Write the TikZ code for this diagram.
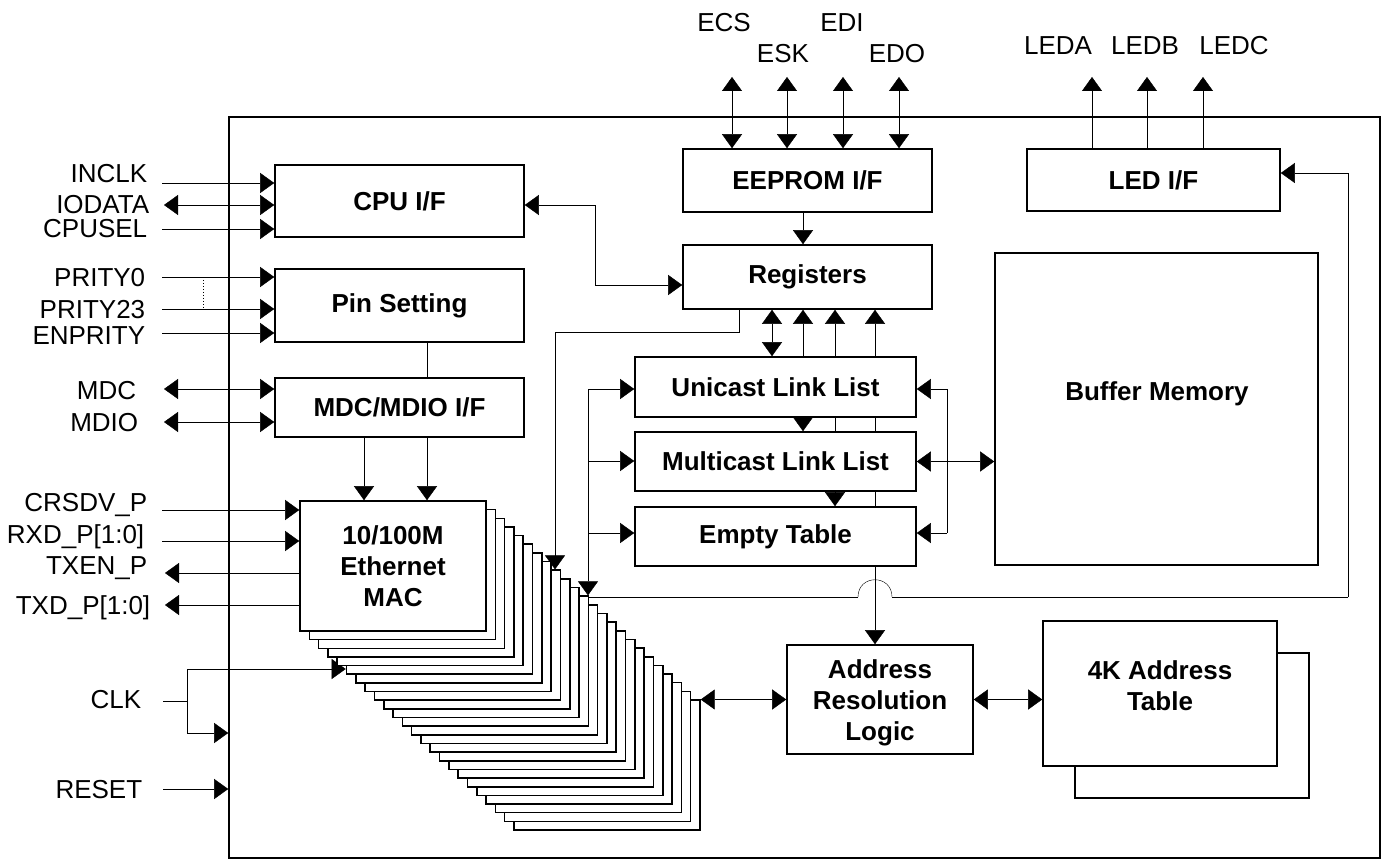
\documentclass[tikz,border=0pt]{standalone}
\usepackage{fontspec}
\setmainfont{Liberation Sans}
\usetikzlibrary{arrows.meta,calc}
\pgfdeclarelayer{bg}
\pgfsetlayers{bg,main}
\begin{document}
\begin{tikzpicture}[x=1pt,y=-1pt,line width=1.6pt,
  box/.style={draw,fill=white,line width=1.6pt,inner sep=0pt,font=\fontsize{26}{31}\selectfont\bfseries,align=center},
  btxt/.style={inner sep=0pt,font=\fontsize{26}{31}\selectfont\bfseries,align=center},
  lab/.style={inner sep=0pt,font=\fontsize{26}{31}\selectfont},
  sarr/.style={-{Triangle[length=14pt,width=20pt]}},
  darr/.style={{Triangle[length=14pt,width=20pt]}-{Triangle[length=14pt,width=20pt]}}]
\useasboundingbox (0,0) rectangle (1385,861);

% chip outline
\node[draw,line width=1.6pt,inner sep=0pt,minimum width=1151pt,minimum height=741pt] (chip) at (804.5,487.5) {};

% blocks
\node[box,minimum width=249pt,minimum height=72pt] (cpu) at (399.5,201) {CPU I/F};
\node[box,minimum width=249pt,minimum height=73pt] (pin) at (399.5,305.5) {Pin Setting};
\node[box,minimum width=249pt,minimum height=59pt] (mdc) at (399.5,407.5) {MDC/MDIO I/F};
\node[box,minimum width=249pt,minimum height=63pt] (eeprom) at (807.5,180.5) {EEPROM I/F};
\node[box,minimum width=249pt,minimum height=64pt] (reg) at (807.5,277) {Registers};
\node[box,minimum width=253pt,minimum height=62pt] (led) at (1153.5,180) {LED I/F};
\node[box,minimum width=281pt,minimum height=60pt] (uni) at (775.5,387) {Unicast Link List};
\node[box,minimum width=281pt,minimum height=59pt] (multi) at (775.5,461.5) {Multicast Link List};
\node[box,minimum width=281pt,minimum height=59pt] (empty) at (775.5,536.5) {Empty Table};
\node[box,minimum width=323pt,minimum height=312pt] (buf) at (1156.5,409) {};
\node[btxt,anchor=base] (bufT) at (1157,400) {Buffer Memory};

% MAC stack
\foreach \k in {23,22,...,1}{
  \node[box,minimum width=186pt,minimum height=130pt] (mac\k) at ({393+9.3*\k},{566+8.65*\k}) {};
}
\node[box,minimum width=186pt,minimum height=130pt] (mac) at (393,566) {10/100M\\Ethernet\\MAC};

\node[box,minimum width=186pt,minimum height=109pt] (arl) at (880,699.5) {};
\node[btxt] (arlT) at (880,703) {Address\\Resolution\\Logic};
\node[box,minimum width=234pt,minimum height=145pt] (at4kS) at (1192,725.5) {};
\node[box,minimum width=234pt,minimum height=145pt] (at4k) at (1160,693.5) {};
\node[btxt] (at4kT) at (1160,686) {4K Address\\Table};

% labels
\node[lab,anchor=base east] (lInclk) at (148,183) {INCLK};
\node[lab,anchor=base east] (lIodata) at (150,214) {IODATA};
\node[lab,anchor=base east] (lCpusel) at (148,238) {CPUSEL};
\node[lab,anchor=base east] (lP0) at (146,287) {PRITY0};
\node[lab,anchor=base east] (lP23) at (146,319) {PRITY23};
\node[lab,anchor=base east] (lEnp) at (146,344) {ENPRITY};
\node[lab,anchor=base east] (lMdc) at (137,399) {MDC};
\node[lab,anchor=base east] (lMdio) at (139,431) {MDIO};
\node[lab,anchor=base east] (lCrs) at (148,511) {CRSDV\_P};
\node[lab,anchor=base east] (lRxd) at (145,543) {RXD\_P[1:0]};
\node[lab,anchor=base east] (lTxen) at (148,574) {TXEN\_P};
\node[lab,anchor=base east] (lTxd) at (151,614) {TXD\_P[1:0]};
\node[lab,anchor=base east] (lClk) at (142,708) {CLK};
\node[lab,anchor=base east] (lRst) at (143,798) {RESET};
\node[lab,anchor=base] (lEcs) at (724,32) {ECS};
\node[lab,anchor=base] (lEsk) at (783,63) {ESK};
\node[lab,anchor=base] (lEdi) at (842,32) {EDI};
\node[lab,anchor=base] (lEdo) at (897,63) {EDO};
\node[lab,anchor=base] (lLa) at (1058,55) {LEDA};
\node[lab,anchor=base] (lLb) at (1145,55) {LEDB};
\node[lab,anchor=base] (lLc) at (1234,55) {LEDC};

% coordinates
\coordinate (pInclk) at (162,183);
\coordinate (pIodata) at (164,205);
\coordinate (pCpusel) at (162,229);
\coordinate (pP0) at (162,277);
\coordinate (pP23) at (162,309);
\coordinate (pEnp) at (162,333);
\coordinate (pMdc) at (164,389);
\coordinate (pMdio) at (164,422);
\coordinate (pCrs) at (162,510);
\coordinate (pRxd) at (162,541);
\coordinate (pTxen) at (165,573);
\coordinate (pTxd) at (165,605);
\coordinate (clkS) at (163,701);
\coordinate (clkJ) at (187,701);
\coordinate (clkU) at (187,669);
\coordinate (clkD) at (187,733);
\coordinate (rstS) at (163,789);
\coordinate (d1) at (203,280);
\coordinate (d2) at (203,308);
\coordinate (e1) at (732,77);
\coordinate (e2) at (787,77);
\coordinate (e3) at (843,77);
\coordinate (e4) at (899,77);
\coordinate (l1) at (1092,77);
\coordinate (l2) at (1147,77);
\coordinate (l3) at (1203,77);
\coordinate (er) at (803,230);
\coordinate (v1) at (772,330);
\coordinate (v2) at (803,330);
\coordinate (v3) at (835,330);
\coordinate (v4) at (875,330);
\coordinate (cr1) at (595,205);
\coordinate (cr2) at (595,285);
\coordinate (rs1) at (739,332);
\coordinate (rs2) at (555,332);
\coordinate (lb1) at (588,389);
\coordinate (lb2) at (588,461);
\coordinate (lb3) at (588,533);
\coordinate (rb1) at (947,389);
\coordinate (rb3) at (947,533);
\coordinate (h0) at (588,597);
\coordinate (h1) at (858,597);
\coordinate (h2) at (892,597);
\coordinate (h3) at (1348,597);
\coordinate (h4) at (1348,173);
\coordinate (m1) at (364,470);
\coordinate (m2) at (427,470);

\begin{pgfonlayer}{bg}
% left pins
\draw[sarr] (pInclk) -- (cpu.west |- pInclk);
\draw[darr] (pIodata) -- (cpu.west |- pIodata);
\draw[sarr] (pCpusel) -- (cpu.west |- pCpusel);
\draw[sarr] (pP0) -- (pin.west |- pP0);
\draw[sarr] (pP23) -- (pin.west |- pP23);
\draw[sarr] (pEnp) -- (pin.west |- pEnp);
\draw[dotted,line width=1pt] (d1) -- (d2);
\draw[darr] (pMdc) -- (mdc.west |- pMdc);
\draw[darr] (pMdio) -- (mdc.west |- pMdio);
\draw[sarr] (pCrs) -- (mac.west |- pCrs);
\draw[sarr] (pRxd) -- (mac.west |- pRxd);
\draw[sarr] (mac.west |- pTxen) -- (pTxen);
\draw[sarr] (mac.west |- pTxd) -- (pTxd);
\draw (clkS) -- (clkJ);
\draw[sarr] (clkJ) -- (clkU) -- (mac5.west |- clkU);
\draw[sarr] (clkJ) -- (clkD) -- (chip.west |- clkD);
\draw[sarr] (rstS) -- (chip.west |- rstS);
% left blocks
\draw (pin.south -| m2) -- (mdc.north -| m2);
\draw[sarr] (mdc.south -| m1) -- (mac.north -| m1);
\draw[sarr] (mdc.south -| m2) -- (mac.north -| m2);
\draw[darr] (cpu.east |- cr1) -- (cr1) -- (cr2) -- (reg.west |- cr2);
% eeprom & led
\draw[darr] (e1) -- (e1 |- eeprom.north);
\draw[darr] (e2) -- (e2 |- eeprom.north);
\draw[darr] (e3) -- (e3 |- eeprom.north);
\draw[darr] (e4) -- (e4 |- eeprom.north);
\draw[sarr] (l1 |- led.north) -- (l1);
\draw[sarr] (l2 |- led.north) -- (l2);
\draw[sarr] (l3 |- led.north) -- (l3);
\draw[sarr] (eeprom.south -| er) -- (reg.north -| er);
% registers and link lists
\draw[darr] (reg.south -| v1) -- (uni.north -| v1);
\draw[sarr] (uni.north -| v2) -- (reg.south -| v2);
\draw[sarr] (multi.north -| v3) -- (reg.south -| v3);
\draw[sarr] (empty.north -| v4) -- (reg.south -| v4);
\draw[sarr] (uni.south -| v2) -- (multi.north -| v2);
\draw[sarr] (multi.south -| v3) -- (empty.north -| v3);
\draw[sarr] (empty.south -| v4) -- (arl.north -| v4);
\draw[sarr] (reg.south -| rs1) -- (rs1) -- (rs2) -- (rs2 |- mac8.north);
% left bus
\draw[sarr] (lb1) -- (uni.west |- lb1);
\draw[sarr] (lb2) -- (multi.west |- lb2);
\draw[sarr] (lb3) -- (empty.west |- lb3);
\draw[sarr] (lb1) -- (lb1 |- mac11.north);
% right bus
\draw[sarr] (rb1) -- (uni.east |- rb1);
\draw (rb1) -- (rb3);
\draw[sarr] (rb3) -- (empty.east |- rb3);
\draw[darr] (multi.east) -- (buf.west |- multi.east);
% MAC to LED loop with hop
\draw (h0) -- (h1);
\draw (h1) .. controls (858,574) and (892,574) .. (h2);
\draw (h2) -- (h3);
\draw[sarr] (h3) -- (h4) -- (led.east |- h4);
% address resolution
\draw[darr] (mac23.east |- arl.west) -- (arl.west);
\draw[darr] (arl.east) -- (at4k.west |- arl.east);
\end{pgfonlayer}
\end{tikzpicture}
\end{document}
